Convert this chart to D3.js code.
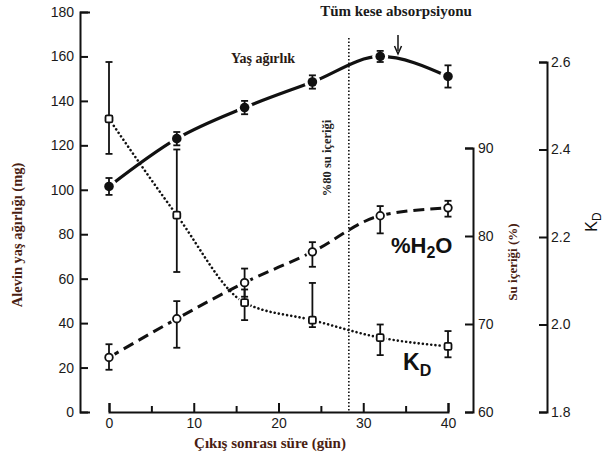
<!DOCTYPE html>
<html>
<head>
<meta charset="utf-8">
<script src="https://cdn.jsdelivr.net/npm/d3@7"></script>
<style>
  body { margin: 0; background: #fff; }
  .tick text { font-family: "Liberation Sans", Arial, sans-serif; font-size: 14px; fill: #1a1a1a; }
  .serif { font-family: "Liberation Serif", "Times New Roman", serif; font-weight: bold; }
</style>
</head>
<body>
<div id="chart"></div>
<script>
// Data
const days          = [0, 8, 16, 24, 32, 40];
const wetWeight     = [101.5, 123, 137, 148.5, 160, 151];
const wetWeightErr  = [3.8, 3, 3, 3, 2.5, 5];
const waterPct      = [66.2, 70.6, 74.7, 78.2, 82.3, 83.2];
const waterHi       = [67.7, 72.6, 76.3, 79.3, 83.4, 84.0];
const waterLo       = [64.8, 67.3, 73.1, 76.5, 80.3, 82.2];
const kdValues      = [2.47, 2.25, 2.05, 2.01, 1.97, 1.95];
const kdHi          = [2.60, 2.40, 2.08, 2.095, 2.00, 1.985];
const kdLo          = [2.39, 2.12, 2.01, 1.994, 1.93, 1.925];
const dayTicks      = [0, 5, 10, 15, 20, 25, 30, 35, 40];
const weightTicks   = [0, 20, 40, 60, 80, 100, 120, 140, 160, 180];
const waterTicks    = [60, 70, 80, 90];
const kdTicks       = [1.8, 2.0, 2.2, 2.4, 2.6];
const water80Day    = 28.3;   // dotted vertical "%80 su içeriği"
const yolkDay       = 34.1;   // arrow "Tüm kese absorpsiyonu"

const W = 605, H = 463;
const ink = "#111";
const labelColor = "#4a1e12";

const svg = d3.select("#chart").append("svg")
  .attr("width", W).attr("height", H);

// Scales
const x  = d3.scaleLinear([0, 40], [109, 448]);
const yW = d3.scaleLinear([0, 180], [412, 12]);
const yH = d3.scaleLinear([60, 90], [412, 148]);
const yK = d3.scaleLinear([1.8, 2.6], [412, 62]);

function styleAxis(g) {
  g.select(".domain").attr("stroke", ink).attr("stroke-width", 2);
  g.selectAll(".tick line").attr("stroke", ink).attr("stroke-width", 2);
}

// Left axis (ticks point inward)
svg.append("g")
  .attr("transform", "translate(80,0)")
  .call(d3.axisLeft(yW).tickValues(weightTicks).tickSizeInner(-8).tickSizeOuter(-10).tickPadding(6))
  .call(styleAxis);

// Bottom axis
const xAxisG = svg.append("g")
  .attr("transform", "translate(0,412)")
  .call(d3.axisBottom(x).tickValues(dayTicks).tickSizeInner(-6).tickSizeOuter(-9).tickPadding(6)
    .tickFormat(d => d % 10 === 0 ? d : ""))
  .call(styleAxis);
xAxisG.selectAll(".tick line").attr("y2", d => d % 10 === 0 ? -9 : -6);

// Right axis: water content
svg.append("g")
  .attr("transform", "translate(473,0)")
  .call(d3.axisRight(yH).tickValues(waterTicks).tickSizeInner(-8).tickSizeOuter(-8).tickPadding(5))
  .call(styleAxis);

// Right axis: KD
svg.append("g")
  .attr("transform", "translate(547,0)")
  .call(d3.axisRight(yK).tickValues(kdTicks).tickSizeInner(-8).tickSizeOuter(-8).tickPadding(4)
    .tickFormat(d3.format(".1f")))
  .call(styleAxis);

// Dotted vertical line at 80% water
svg.append("line")
  .attr("x1", x(water80Day)).attr("x2", x(water80Day))
  .attr("y1", 38).attr("y2", 412)
  .attr("stroke", ink).attr("stroke-width", 1.6)
  .attr("stroke-dasharray", "1.5,2");

svg.append("text")
  .attr("class", "serif")
  .attr("transform", `translate(${x(water80Day) - 18},158) rotate(-90)`)
  .attr("text-anchor", "middle")
  .attr("font-size", 12.5)
  .attr("fill", "#222")
  .text("%80 su içeriği");

// Series lines
const idx = d3.range(days.length);
const curve = d3.curveMonotoneX;

const wetLine = d3.line().x(i => x(days[i])).y(i => yW(wetWeight[i])).curve(curve);
const waterLine = d3.line().x(i => x(days[i])).y(i => yH(waterPct[i])).curve(curve);
const kdLine = d3.line().x(i => x(days[i])).y(i => yK(kdValues[i])).curve(curve);

svg.append("path").attr("d", kdLine(idx))
  .attr("fill", "none").attr("stroke", ink).attr("stroke-width", 2.6)
  .attr("stroke-linecap", "round").attr("stroke-dasharray", "0.01,4.2");

svg.append("path").attr("d", waterLine(idx))
  .attr("fill", "none").attr("stroke", ink).attr("stroke-width", 3)
  .attr("stroke-dasharray", "11,6");

svg.append("path").attr("d", wetLine(idx))
  .attr("fill", "none").attr("stroke", ink).attr("stroke-width", 3.2);

// Halos to open gaps around markers
function halos(yFn, vals, r) {
  svg.append("g").selectAll("circle").data(idx).join("circle")
    .attr("cx", i => x(days[i])).attr("cy", i => yFn(vals[i]))
    .attr("r", r).attr("fill", "#fff");
}
halos(yW, wetWeight, 8);
halos(yH, waterPct, 6.5);
halos(yK, kdValues, 6.5);

// Error bars
function errorBars(yFn, hi, lo) {
  const g = svg.append("g").attr("stroke", ink).attr("stroke-width", 1.8);
  g.selectAll("line.v").data(idx).join("line").attr("class", "v")
    .attr("x1", i => x(days[i])).attr("x2", i => x(days[i]))
    .attr("y1", i => yFn(hi[i])).attr("y2", i => yFn(lo[i]));
  g.selectAll("line.t").data(idx).join("line").attr("class", "t")
    .attr("x1", i => x(days[i]) - 3.5).attr("x2", i => x(days[i]) + 3.5)
    .attr("y1", i => yFn(hi[i])).attr("y2", i => yFn(hi[i]));
  g.selectAll("line.b").data(idx).join("line").attr("class", "b")
    .attr("x1", i => x(days[i]) - 3.5).attr("x2", i => x(days[i]) + 3.5)
    .attr("y1", i => yFn(lo[i])).attr("y2", i => yFn(lo[i]));
}
errorBars(yW, wetWeight.map((v, i) => v + wetWeightErr[i]), wetWeight.map((v, i) => v - wetWeightErr[i]));
errorBars(yH, waterHi, waterLo);
errorBars(yK, kdHi, kdLo);

// Markers
svg.append("g").selectAll("circle").data(idx).join("circle")
  .attr("cx", i => x(days[i])).attr("cy", i => yW(wetWeight[i]))
  .attr("r", 4.8).attr("fill", ink);

svg.append("g").selectAll("circle").data(idx).join("circle")
  .attr("cx", i => x(days[i])).attr("cy", i => yH(waterPct[i]))
  .attr("r", 3.8).attr("fill", "#fff").attr("stroke", ink).attr("stroke-width", 1.8);

svg.append("g").selectAll("rect").data(idx).join("rect")
  .attr("x", i => x(days[i]) - 3.5).attr("y", i => yK(kdValues[i]) - 3.5)
  .attr("width", 7).attr("height", 7).attr("rx", 1.5)
  .attr("fill", "#fff").attr("stroke", ink).attr("stroke-width", 1.8);

// Annotations
svg.append("text").attr("class", "serif")
  .attr("x", 263).attr("y", 63).attr("text-anchor", "middle")
  .attr("font-size", 14).attr("fill", "#2a1a14")
  .text("Yaş ağırlık");

svg.append("text").attr("class", "serif")
  .attr("x", 396).attr("y", 16).attr("text-anchor", "middle")
  .attr("font-size", 15).attr("fill", "#1a1a1a")
  .text("Tüm kese absorpsiyonu");

// Arrow
svg.append("line")
  .attr("x1", x(yolkDay)).attr("x2", x(yolkDay))
  .attr("y1", 35).attr("y2", 51)
  .attr("stroke", ink).attr("stroke-width", 1.5);
svg.append("path")
  .attr("d", d3.line()([[x(yolkDay) - 3.5, 46], [x(yolkDay), 54], [x(yolkDay) + 3.5, 46]]))
  .attr("fill", "none").attr("stroke", ink).attr("stroke-width", 1.5);

// Series labels
const h2o = svg.append("text")
  .attr("x", 391).attr("y", 253)
  .attr("font-family", "Liberation Sans, Arial, sans-serif")
  .attr("font-weight", "bold").attr("font-size", 22).attr("fill", ink);
h2o.append("tspan").text("%H");
h2o.append("tspan").attr("dy", 5).attr("font-size", 16).text("2");
h2o.append("tspan").attr("dy", -5).text("O");

const kdLabel = svg.append("text")
  .attr("x", 403).attr("y", 370)
  .attr("font-family", "Liberation Sans, Arial, sans-serif")
  .attr("font-weight", "bold").attr("font-size", 23).attr("fill", ink);
kdLabel.append("tspan").text("K");
kdLabel.append("tspan").attr("dy", 6).attr("font-size", 16).text("D");

// Axis titles
svg.append("text").attr("class", "serif")
  .attr("x", 270).attr("y", 448).attr("text-anchor", "middle")
  .attr("font-size", 15).attr("fill", labelColor)
  .text("Çıkış sonrası süre (gün)");

svg.append("text").attr("class", "serif")
  .attr("transform", "translate(22,235) rotate(-90)")
  .attr("text-anchor", "middle")
  .attr("font-size", 14.5).attr("fill", labelColor)
  .text("Alevin yaş ağırlığı (mg)");

svg.append("text").attr("class", "serif")
  .attr("transform", "translate(517,262) rotate(-90)")
  .attr("text-anchor", "middle")
  .attr("font-size", 13).attr("fill", labelColor)
  .text("Su içeriği (%)");

const kdTitle = svg.append("text")
  .attr("transform", "translate(597,222) rotate(-90)")
  .attr("text-anchor", "middle")
  .attr("font-family", "Liberation Sans, Arial, sans-serif")
  .attr("font-size", 16).attr("fill", ink);
kdTitle.append("tspan").text("K");
kdTitle.append("tspan").attr("dy", 4).attr("font-size", 12).text("D");
</script>
</body>
</html>
